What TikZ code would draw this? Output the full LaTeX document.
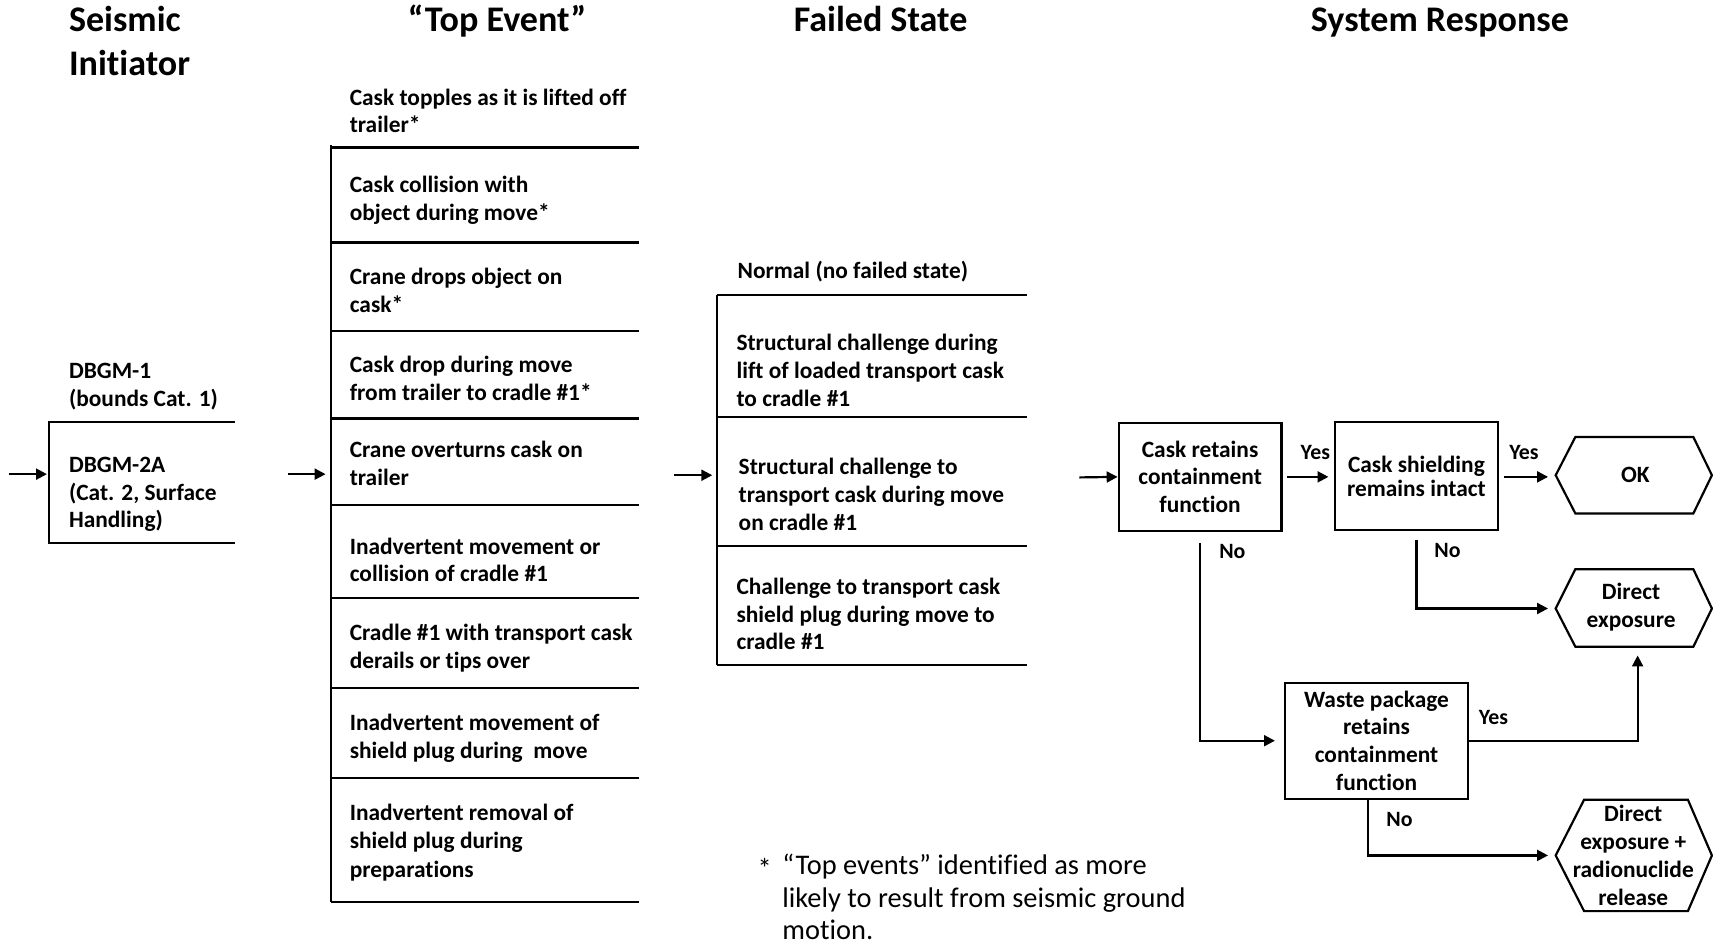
\documentclass[tikz,border=0pt]{standalone}
\usepackage{fontspec}
\setmainfont[Ligatures=NoCommon]{Carlito}
\usetikzlibrary{arrows.meta,calc}
\begin{document}
\begin{tikzpicture}[x=1pt,y=-1pt,
  head/.style={font=\fontsize{33}{40}\selectfont\bfseries, inner sep=0pt},
  txt/.style={font=\fontsize{21.4}{25.5}\selectfont\bfseries, align=left, anchor=west, inner sep=0pt},
  ctxt/.style={font=\fontsize{21.4}{25.5}\selectfont\bfseries, align=center, inner sep=0pt},
  boxnode/.style={draw, line width=2pt, inner sep=0pt, align=center, font=\fontsize{21.4}{25.5}\selectfont\bfseries},
  lab/.style={font=\fontsize{20}{24}\selectfont\bfseries, inner sep=0pt},
  lin/.style={line width=2pt},
  arr/.style={line width=2pt, -{Triangle[length=10pt,width=10pt]}},
  foot/.style={font=\fontsize{26}{30}\selectfont, inner sep=0pt}
]
\useasboundingbox (0,0) rectangle (1568,868);
\fill[white] (0,0) rectangle (1568,868);

% ---------- headers ----------
\node[head, anchor=base west] (hSeis) at (63,29) {Seismic};
\node[head, anchor=base west] (hInit) at (63,69) {Initiator};
\node[head, anchor=base] (hTop) at (455,29) {“Top Event”};
\node[head, anchor=base] (hFail) at (806,29) {Failed State};
\node[head, anchor=base] (hSys) at (1318,29) {System Response};

% ---------- seismic initiator ----------
\node[txt] (dbgm1) at (63,353.5) {DBGM-1\\(bounds Cat. 1)};
\node[txt] (dbgm2) at (63,452.5) {DBGM-2A\\(Cat. 2, Surface\\Handling)};
\draw[lin] (215,386) -- (45,386) -- (45,497) -- (215,497);
\coordinate (inA) at (8,434);
\coordinate (inAe) at (43,434);
\draw[arr] (inA) -- (inAe);

% ---------- top events ----------
\draw[lin] (303,133) -- (303,826);
\foreach \yy in {135,222,303,383,462,547,630,712,826}
  \draw[lin] (303,\yy) -- (585,\yy);
\node[txt] (t1) at (320,101.5) {Cask topples as it is lifted off\\trailer*};
\node[txt] (t2) at (320,183.5) {Cask collision with\\object during move*};
\node[txt] (t3) at (320,266) {Crane drops object on\\cask*};
\node[txt] (t4) at (320,346) {Cask drop during move\\from trailer to cradle \#1*};
\node[txt] (t5) at (320,424.5) {Crane overturns cask on\\trailer};
\node[txt] (t6) at (320,512.5) {Inadvertent movement or\\collision of cradle \#1};
\node[txt] (t7) at (320,593) {Cradle \#1 with transport cask\\derails or tips over};
\node[txt] (t8) at (320,675.5) {Inadvertent movement of\\shield plug during\ \ move};
\node[txt, font=\fontsize{21.4}{26}\selectfont\bfseries] (t9) at (320,771) {Inadvertent removal of\\shield plug during\\preparations};
\coordinate (inB) at (264,434);
\coordinate (inBe) at (298,434);
\draw[arr] (inB) -- (inBe);

% ---------- failed states ----------
\draw[lin] (656,270) -- (656,609);
\foreach \yy in {270,382,500,609}
  \draw[lin] (656,\yy) -- (940,\yy);
\node[txt] (f0) at (675,249) {Normal (no failed state)};
\node[txt] (f1) at (674,339) {Structural challenge during\\lift of loaded transport cask\\to cradle \#1};
\node[txt] (f2) at (676,452.5) {Structural challenge to\\transport cask during move\\on cradle \#1};
\node[txt] (f3) at (674,562) {Challenge to transport cask\\shield plug during move to\\cradle \#1};
\coordinate (inC) at (617,435);
\coordinate (inCe) at (652,435);
\draw[arr] (inC) -- (inCe);

% ---------- system response ----------
\node[boxnode, minimum width=149pt, minimum height=99pt] (cr) at (1098.5,436.5) {Cask retains\\containment\\function};
\node[boxnode, minimum width=149pt, minimum height=99pt, font=\fontsize{21.4}{22}\selectfont\bfseries] (cs) at (1296.5,436) {Cask shielding\\remains intact};
\node[boxnode, minimum width=168pt, minimum height=106pt] (wp) at (1260,678) {Waste package\\retains\\containment\\function};

% hexagons
\draw[lin] (1424,435) -- (1442,400) -- (1550,400) -- (1567,435) -- (1550,470) -- (1442,470) -- cycle;
\node[ctxt] (ok) at (1497,435) {OK};
\coordinate (okL) at (1424,435);
\draw[lin] (1424,557) -- (1442,521) -- (1550,521) -- (1567,557) -- (1550,592) -- (1442,592) -- cycle;
\node[ctxt] (de1) at (1493,556) {Direct\\exposure};
\coordinate (de1L) at (1424,557);
\coordinate (de1B) at (1499,592);
\draw[lin] (1424,783) -- (1450,732) -- (1545,732) -- (1567,783) -- (1545,834) -- (1450,834) -- cycle;
\node[ctxt] (de2) at (1495,783) {Direct\\exposure +\\radionuclide\\release};
\coordinate (de2L) at (1424,783);

% connectors
\coordinate (inD) at (988,437);
\draw[arr] (inD) -- (cr.west);
\draw[arr, shorten <=4pt, shorten >=5pt] (cr.east) -- (cs.west |- cr.east);
\draw[arr, shorten <=5pt, shorten >=7pt] (cs.east |- cr.east) -- (okL |- cr.east);
\draw[arr] ([yshift=-10pt]cr.south) |- ([xshift=-8pt]wp.west);
\draw[arr] ([yshift=-8pt]cs.south) |- ([xshift=-7pt]de1L);
\draw[arr] (wp.east) -| ([yshift=-8pt]de1B);
\draw[arr] ([xshift=-8pt]wp.south) |- ([xshift=-7pt]de2L);

% labels
\node[lab] (y1) at (1204,414) {Yes};
\node[lab] (y2) at (1395,414) {Yes};
\node[lab] (y3) at (1367,657) {Yes};
\node[lab] (n1) at (1128,505) {No};
\node[lab] (n2) at (1325,504) {No};
\node[lab] (n3) at (1281,750) {No};

% footnote
\node[foot] (star) at (700,795) {*};
\node[foot, anchor=west, align=left] (fn) at (716,821) {“Top events” identified as more\\likely to result from seismic ground\\motion.};
\end{tikzpicture}
\end{document}
